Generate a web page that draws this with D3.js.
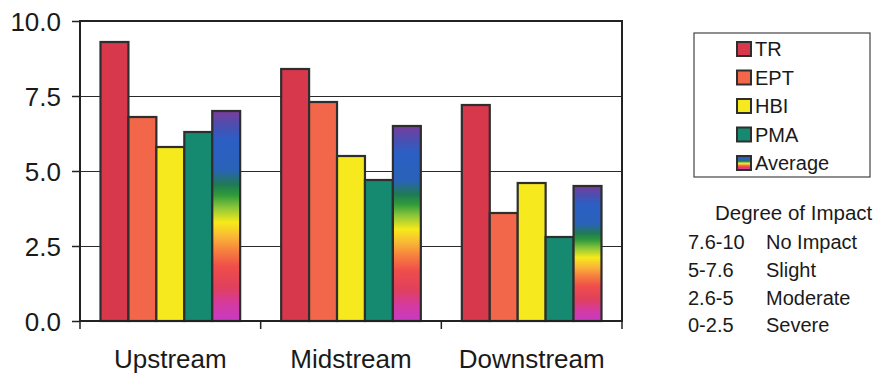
<!DOCTYPE html>
<html>
<head>
<meta charset="utf-8">
<script src="https://cdn.jsdelivr.net/npm/d3@7"></script>
<style>
  html, body { margin: 0; padding: 0; background: #fff; }
  svg { display: block; font-family: "Liberation Sans", Arial, sans-serif; }
</style>
</head>
<body>
<svg id="chart" width="876" height="375"></svg>
<script>
// Index scores by stream section
const sites = ["Upstream", "Midstream", "Downstream"];
const metrics = ["TR", "EPT", "HBI", "PMA", "Average"];
const trValues = [9.3, 8.4, 7.2];
const eptValues = [6.8, 7.3, 3.6];
const hbiValues = [5.8, 5.5, 4.6];
const pmaValues = [6.3, 4.7, 2.8];
const averageValues = [7.0, 6.5, 4.5];
const yTicks = [0, 2.5, 5, 7.5, 10];
const impactRanges = ["7.6-10", "5-7.6", "2.6-5", "0-2.5"];
const impactNames = ["No Impact", "Slight", "Moderate", "Severe"];

const seriesValues = [trValues, eptValues, hbiValues, pmaValues, averageValues];
const fills = ["#d8384c", "#f2664a", "#f6e91e", "#158a71", "url(#rainbow)"];

const FONT = "Liberation Sans, Arial, sans-serif";
const svg = d3.select("#chart");
const plot = { left: 80, top: 21, right: 622, bottom: 321 };

// rainbow fill used for the Average bars
const defs = svg.append("defs");
const grad = defs.append("linearGradient")
  .attr("id", "rainbow").attr("x1", 0).attr("y1", 0).attr("x2", 0).attr("y2", 1);
[
  [0.00, "#7a3c9c"], [0.07, "#4a4fb0"], [0.14, "#2b5fc4"], [0.28, "#2a62b8"],
  [0.35, "#1f7a55"], [0.40, "#2f9a3a"], [0.46, "#8cc63a"], [0.53, "#f7ea1a"],
  [0.60, "#f9b637"], [0.66, "#f7843e"], [0.74, "#ef4e4a"], [0.84, "#e0405c"],
  [0.92, "#d43aa0"], [1.00, "#c83ac4"]
].forEach(([o, c]) => grad.append("stop").attr("offset", o).attr("stop-color", c));

const x = d3.scaleBand().domain(sites).range([plot.left, plot.right]).paddingInner(0).paddingOuter(0);
const xInner = d3.scaleBand().domain(metrics).range([20.5, x.bandwidth() - 20.5]).padding(0);
const y = d3.scaleLinear().domain([0, 10]).range([plot.bottom, plot.top]);

// plot background
svg.append("rect")
  .attr("x", plot.left).attr("y", plot.top)
  .attr("width", plot.right - plot.left).attr("height", plot.bottom - plot.top)
  .attr("fill", "#fff");

// horizontal gridlines
svg.append("g")
  .selectAll("line")
  .data(yTicks.filter(t => t > 0 && t < 10))
  .join("line")
  .attr("x1", plot.left).attr("x2", plot.right)
  .attr("y1", d => Math.round(y(d)) + 0.5).attr("y2", d => Math.round(y(d)) + 0.5)
  .attr("stroke", "#2a2a2a").attr("stroke-width", 1);

// bars
const groups = svg.append("g")
  .selectAll("g")
  .data(sites)
  .join("g")
  .attr("transform", d => `translate(${x(d)},0)`);

groups.selectAll("rect")
  .data((site, i) => metrics.map((m, j) => ({ metric: m, value: seriesValues[j][i], fill: fills[j] })))
  .join("rect")
  .attr("x", d => xInner(d.metric))
  .attr("y", d => y(d.value))
  .attr("width", xInner.bandwidth())
  .attr("height", d => y(0) - y(d.value))
  .attr("fill", d => d.fill)
  .attr("stroke", "#2e2e2e")
  .attr("stroke-width", 2.2);

// plot border
svg.append("rect")
  .attr("x", plot.left).attr("y", plot.top)
  .attr("width", plot.right - plot.left).attr("height", plot.bottom - plot.top)
  .attr("fill", "none").attr("stroke", "#222").attr("stroke-width", 2);

// y axis
const yAxis = d3.axisLeft(y).tickValues(yTicks).tickSize(8).tickPadding(11)
  .tickFormat(d3.format(".1f"));
const gy = svg.append("g").attr("transform", `translate(${plot.left},0)`).call(yAxis);
gy.attr("font-family", FONT);
gy.select(".domain").remove();
gy.selectAll(".tick line").attr("stroke", "#222").attr("stroke-width", 1.5);
gy.selectAll(".tick text")
  .attr("font-size", 26).attr("fill", "#1a1a1a").attr("font-family", FONT)
  .attr("dy", "0.36em");

// x axis: category boundary ticks and labels
const bounds = sites.map(s => x(s)).concat([plot.right]);
svg.append("g")
  .selectAll("line")
  .data(bounds)
  .join("line")
  .attr("x1", d => d).attr("x2", d => d)
  .attr("y1", plot.bottom).attr("y2", plot.bottom + 8)
  .attr("stroke", "#222").attr("stroke-width", 1.5);

svg.append("g")
  .selectAll("text")
  .data(sites)
  .join("text")
  .attr("x", d => x(d) + x.bandwidth() / 2)
  .attr("y", 368)
  .attr("text-anchor", "middle")
  .attr("font-size", 26)
  .attr("fill", "#1a1a1a")
  .text(d => d);

// series legend
const legend = svg.append("g");
legend.append("rect")
  .attr("x", 694).attr("y", 33).attr("width", 176).attr("height", 144)
  .attr("fill", "#fff").attr("stroke", "#444").attr("stroke-width", 1.2);
const legendRows = legend.selectAll("g")
  .data(metrics)
  .join("g")
  .attr("transform", (d, i) => `translate(737,${49 + i * 28.5})`);
legendRows.append("rect")
  .attr("x", 0).attr("y", -7).attr("width", 14).attr("height", 14)
  .attr("fill", (d, i) => fills[i])
  .attr("stroke", "#2e2e2e").attr("stroke-width", 2);
legendRows.append("text")
  .attr("x", 18).attr("y", 0).attr("dy", "0.36em")
  .attr("font-size", 20).attr("fill", "#1a1a1a")
  .text(d => d);

// degree of impact key
const key = svg.append("g").attr("fill", "#1a1a1a").attr("font-size", 20);
key.append("text").attr("x", 715).attr("y", 220).attr("font-size", 20.5).text("Degree of Impact");
key.selectAll("text.range")
  .data(impactRanges)
  .join("text").attr("class", "range")
  .attr("x", 688).attr("y", (d, i) => 249 + i * 27.8)
  .text(d => d);
key.selectAll("text.name")
  .data(impactNames)
  .join("text").attr("class", "name")
  .attr("x", 766).attr("y", (d, i) => 249 + i * 27.8)
  .text(d => d);
</script>
</body>
</html>
